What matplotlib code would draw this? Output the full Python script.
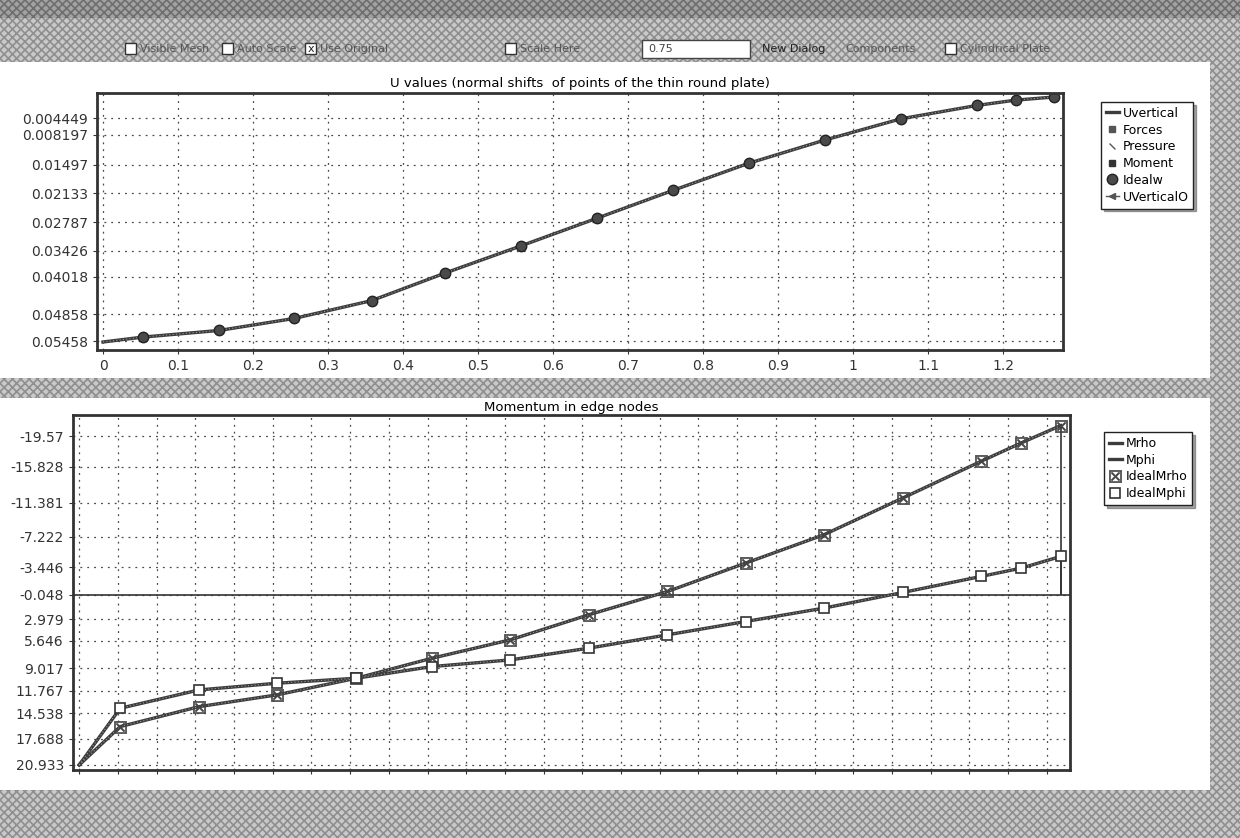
import numpy as np
import matplotlib.pyplot as plt
from matplotlib.patches import Rectangle

plt.rcParams['font.family'] = ['DejaVu Sans']
plt.rcParams['hatch.linewidth'] = 1.2

# radial node positions along the plate
r_nodes = [0.0, 0.053, 0.155, 0.255, 0.358, 0.456, 0.557, 0.658, 0.76,
           0.861, 0.962, 1.064, 1.165, 1.217, 1.268]

# normal shifts of the plate points
u_vertical = [0.0548, 0.0537, 0.0522, 0.0495, 0.0455, 0.0393, 0.0332, 0.0270,
              0.0207, 0.0146, 0.0094, 0.0046, 0.0016, 0.0004, -0.0003]
idealw = u_vertical[1:]

u_yticks = [0.004449, 0.008197, 0.01497, 0.02133, 0.02787, 0.03426,
            0.04018, 0.04858, 0.05458]
u_ylabels = ['0.004449', '0.008197', '0.01497', '0.02133', '0.02787',
             '0.03426', '0.04018', '0.04858', '0.05458']
u_xticks = [0, 0.1, 0.2, 0.3, 0.4, 0.5, 0.6, 0.7, 0.8, 0.9, 1.0, 1.1, 1.2]
u_xlabels = ['0', '0.1', '0.2', '0.3', '0.4', '0.5', '0.6', '0.7', '0.8',
             '0.9', '1', '1.1', '1.2']

# edge moments
m_rho = [20.93, 16.2, 13.74, 12.3, 10.24, 7.77, 5.51, 2.43, -0.45,
         -3.95, -7.44, -11.97, -16.49, -18.76, -20.9]
m_phi = [20.93, 13.94, 11.68, 10.86, 10.24, 8.8, 7.98, 6.54, 4.89,
         3.25, 1.6, -0.33, -2.3, -3.33, -4.77]

m_yticks = [-19.57, -15.828, -11.381, -7.222, -3.446, -0.048, 2.979, 5.646,
            9.017, 11.767, 14.538, 17.688, 20.933]
m_ylabels = ['-19.57', '-15.828', '-11.381', '-7.222', '-3.446', '-0.048',
             '2.979', '5.646', '9.017', '11.767', '14.538', '17.688', '20.933']

W, H = 1240, 838
fig = plt.figure(figsize=(W / 100, H / 100), dpi=100)
fig.patch.set_facecolor('white')


def box(x, y, w, h, **kw):
    r = Rectangle((x / W, 1 - (y + h) / H), w / W, h / H,
                  transform=fig.transFigure, **kw)
    fig.patches.append(r)
    return r


# window chrome
gray = dict(facecolor='#c9c9c9', edgecolor='#8f8f8f', hatch='xxxx', lw=0)
box(0, 0, W, 18, facecolor='#a2a2a2', edgecolor='#6e6e6e', hatch='xxxx', lw=0)
box(0, 18, W, 44, **gray)
box(1210, 62, 30, H - 62, **gray)
box(0, 378, 1210, 20, **gray)
box(0, 790, 1210, 48, **gray)

# toolbar
tb_y = 1 - 49 / H
checks = [(125, 'Visible Mesh', False), (222, 'Auto Scale', False),
          (305, 'Use Original', True), (505, 'Scale Here', False),
          (945, 'Cylindrical Plate', False)]
for cx, label, on in checks:
    box(cx, 43, 11, 11, facecolor='white', edgecolor='#333', lw=1)
    if on:
        fig.text((cx + 5.5) / W, tb_y, 'x', ha='center', va='center',
                 fontsize=8, color='#222')
    fig.text((cx + 15) / W, tb_y, label, ha='left', va='center',
             fontsize=8, color='#555')
box(642, 40, 108, 18, facecolor='white', edgecolor='#444', lw=1)
fig.text(648 / W, tb_y, '0.75', ha='left', va='center', fontsize=8,
         color='#444')
fig.text(762 / W, tb_y, 'New Dialog', ha='left', va='center', fontsize=8,
         color='#222')
fig.text(845 / W, tb_y, 'Components', ha='left', va='center', fontsize=8,
         color='#555')

grid_kw = dict(color='#4a4a4a', linestyle=(0, (1.5, 4)), linewidth=0.9)
line_c = '#3c3c3c'
leg_kw = dict(loc='upper left', fontsize=9, frameon=True, fancybox=False,
              shadow=True, edgecolor='#222', handlelength=1.0,
              handletextpad=0.3, borderpad=0.4, labelspacing=0.3)

# ---- U values ----
ax1 = fig.add_axes([97 / W, 1 - 350 / H, 966 / W, 257 / H])
ax1.plot(r_nodes, u_vertical, color=line_c, lw=2.4, label='Uvertical')
ax1.plot(r_nodes, u_vertical, color='#9a9a9a', lw=0.8,
         linestyle=(0, (1, 2)))
ax1.plot([], [], 's', color='#555', ms=5, label='Forces')
ax1.plot([], [], marker=(2, 0, 45), color='#555', ms=6, ls='none',
         label='Pressure')
ax1.plot([], [], 's', color='#333', ms=4, label='Moment')
ax1.plot(r_nodes[1:], idealw, 'o', color='#4a4a4a', ms=7.5, mec='#222',
         label='Idealw')
ax1.plot([], [], marker='<', color='#555', ms=4, ls='-', lw=1,
         label='UVerticalO')
ax1.set_xlim(-0.008, 1.28)
ax1.set_ylim(0.0566, -0.0012)
ax1.set_yticks(u_yticks, u_ylabels)
ax1.set_xticks(u_xticks, u_xlabels)
ax1.grid(True, **grid_kw)
ax1.set_title('U values (normal shifts  of points of the thin round plate)',
              fontsize=9.5, pad=4)
ax1.legend(bbox_to_anchor=(1.033, 0.99), **leg_kw)

# ---- Momentum ----
ax2 = fig.add_axes([73 / W, 1 - 770 / H, 997 / W, 355 / H])
ax2.axhline(0, color='#333', lw=1.2)
ax2.plot(r_nodes, m_rho, color=line_c, lw=2.4, label='Mrho')
ax2.plot(r_nodes, m_phi, color=line_c, lw=2.4, label='Mphi')
ax2.plot(r_nodes, m_rho, color='#9a9a9a', lw=0.8, linestyle=(0, (1, 2)))
ax2.plot(r_nodes, m_phi, color='#9a9a9a', lw=0.8, linestyle=(0, (1, 2)))
# both curves drop back to zero at the clamped edge
ax2.vlines([r_nodes[-1], r_nodes[-1]], [m_rho[-1], m_phi[-1]], [0, 0],
           color='#333', lw=1.2)
ax2.plot(r_nodes[1:], m_rho[1:], marker=r'$\boxtimes$', color='#444', ms=9,
         mew=0.3, ls='none', label='IdealMrho')
ax2.plot(r_nodes[1:], m_phi[1:], 's', mfc='white', mec='#333', mew=1.2,
         ms=7.5, ls='none', label='IdealMphi')
ax2.set_xlim(-0.008, 1.28)
ax2.set_ylim(21.55, -22.2)
ax2.set_yticks(m_yticks, m_ylabels)
ax2.set_xticks(np.arange(0, 1.3, 0.05))
ax2.tick_params(axis='x', labelbottom=False, length=4)
ax2.grid(True, **grid_kw)
ax2.set_title('Momentum in edge nodes', fontsize=9.5, pad=3)
ax2.legend(bbox_to_anchor=(1.028, 0.97), **leg_kw)

for ax in (ax1, ax2):
    for s in ax.spines.values():
        s.set_linewidth(2)
        s.set_color('#333')
    ax.tick_params(labelsize=10, colors='#333', direction='out', length=3)
    ax.set_facecolor('white')

fig.savefig('out.png', dpi=100)
